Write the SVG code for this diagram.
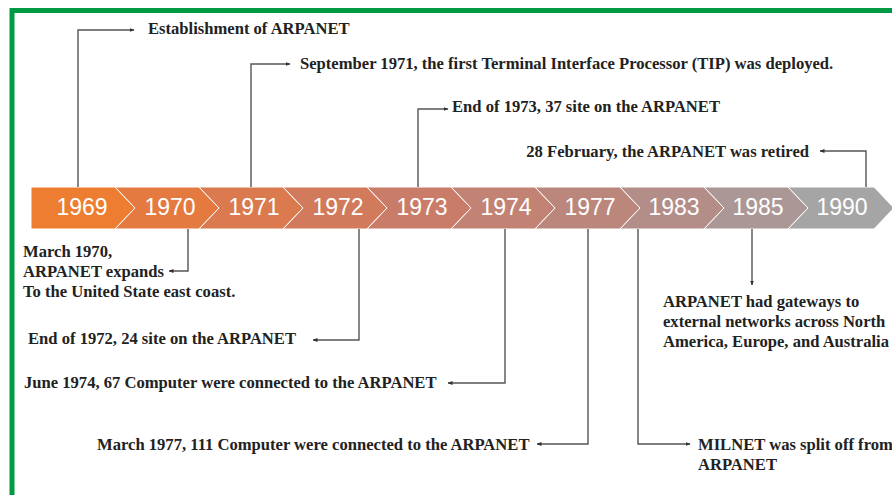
<svg xmlns="http://www.w3.org/2000/svg" width="892" height="495" viewBox="0 0 892 495">
<style>
.yr{font-family:"Liberation Sans",Arial,sans-serif;font-size:23px;fill:#fff;text-anchor:middle}
.lb{font-family:"Liberation Serif","Times New Roman",serif;font-size:16.6px;font-weight:bold;fill:#222}
.seg{stroke:#fff;stroke-width:1}
.con{fill:none;stroke:#555;stroke-width:1.4}
</style>
<defs>
<marker id="ah" viewBox="0 0 10 10" refX="9" refY="5" markerWidth="5" markerHeight="5" orient="auto" markerUnits="userSpaceOnUse">
<path d="M0,1 L10,5 L0,9 z" fill="#333"/>
</marker>
</defs>
<rect width="892" height="495" fill="#fff"/>
<path d="M12,500 V10.5 H900" fill="none" stroke="#009A44" stroke-width="5"/>

<g id="timeline">
<g id="y1969"><polygon class="seg" fill="#ED7D31" points="31,187 115,187 135,208 115,229 31,229"/><text class="yr" x="82" y="215">1969</text></g>
<g id="y1970"><polygon class="seg" fill="#E47A40" points="115,187 199,187 219,208 199,229 115,229 135,208"/><text class="yr" x="170" y="215">1970</text></g>
<g id="y1971"><polygon class="seg" fill="#DB7A4E" points="199,187 283,187 303,208 283,229 199,229 219,208"/><text class="yr" x="254" y="215">1971</text></g>
<g id="y1972"><polygon class="seg" fill="#D27B5C" points="283,187 367,187 387,208 367,229 283,229 303,208"/><text class="yr" x="338" y="215">1972</text></g>
<g id="y1973"><polygon class="seg" fill="#C97D69" points="367,187 451,187 471,208 451,229 367,229 387,208"/><text class="yr" x="422" y="215">1973</text></g>
<g id="y1974"><polygon class="seg" fill="#C28375" points="451,187 535,187 555,208 535,229 451,229 471,208"/><text class="yr" x="506" y="215">1974</text></g>
<g id="y1977"><polygon class="seg" fill="#BB877D" points="535,187 620,187 640,208 620,229 535,229 555,208"/><text class="yr" x="590" y="215">1977</text></g>
<g id="y1983"><polygon class="seg" fill="#B38E89" points="620,187 704,187 724,208 704,229 620,229 640,208"/><text class="yr" x="674" y="215">1983</text></g>
<g id="y1985"><polygon class="seg" fill="#AB9896" points="704,187 788,187 808,208 788,229 704,229 724,208"/><text class="yr" x="758" y="215">1985</text></g>
<g id="y1990"><polygon class="seg" fill="#A5A5A5" points="788,187 874,187 894,208 874,229 788,229 808,208"/><text class="yr" x="842" y="215">1990</text></g>
</g>

<g id="connectors">
<path class="con" marker-end="url(#ah)" d="M78,187 V30 H134"/>
<path class="con" marker-end="url(#ah)" d="M251,187 V64 H290"/>
<path class="con" marker-end="url(#ah)" d="M418,187 V109 H448"/>
<path class="con" marker-end="url(#ah)" d="M866,187 V151 H820"/>
<path class="con" marker-end="url(#ah)" d="M188,229 V271 H169"/>
<path class="con" marker-end="url(#ah)" d="M359,229 V340 H313"/>
<path class="con" marker-end="url(#ah)" d="M505,229 V383 H448"/>
<path class="con" marker-end="url(#ah)" d="M588,229 V444 H537"/>
<path class="con" marker-end="url(#ah)" d="M638,229 V444 H690"/>
<path class="con" marker-end="url(#ah)" d="M752,229 V285"/>
</g>

<g id="l1969"><text class="lb" x="148" y="34">Establishment of ARPANET</text></g>
<g id="l1971"><text class="lb" x="300" y="69">September 1971, the first Terminal Interface Processor (TIP) was deployed.</text></g>
<g id="l1973"><text class="lb" x="452" y="112">End of 1973, 37 site on the ARPANET</text></g>
<g id="l1990"><text class="lb" x="809" y="157" text-anchor="end">28 February, the ARPANET was retired</text></g>
<g id="l1970"><text class="lb" x="23" y="257">March 1970,</text><text class="lb" x="23" y="277">ARPANET expands</text><text class="lb" x="23" y="297">To the United State east coast.</text></g>
<g id="l1972"><text class="lb" x="28" y="344">End of 1972, 24 site on the ARPANET</text></g>
<g id="l1974"><text class="lb" x="24" y="388">June 1974, 67 Computer were connected to the ARPANET</text></g>
<g id="l1977"><text class="lb" x="97" y="450">March 1977, 111 Computer were connected to the ARPANET</text></g>
<g id="l1983"><text class="lb" x="698" y="450">MILNET was split off from</text><text class="lb" x="698" y="470">ARPANET</text></g>
<g id="l1985"><text class="lb" x="663" y="307">ARPANET had gateways to</text><text class="lb" x="663" y="327">external networks across North</text><text class="lb" x="663" y="347">America, Europe, and Australia</text></g>
</svg>
